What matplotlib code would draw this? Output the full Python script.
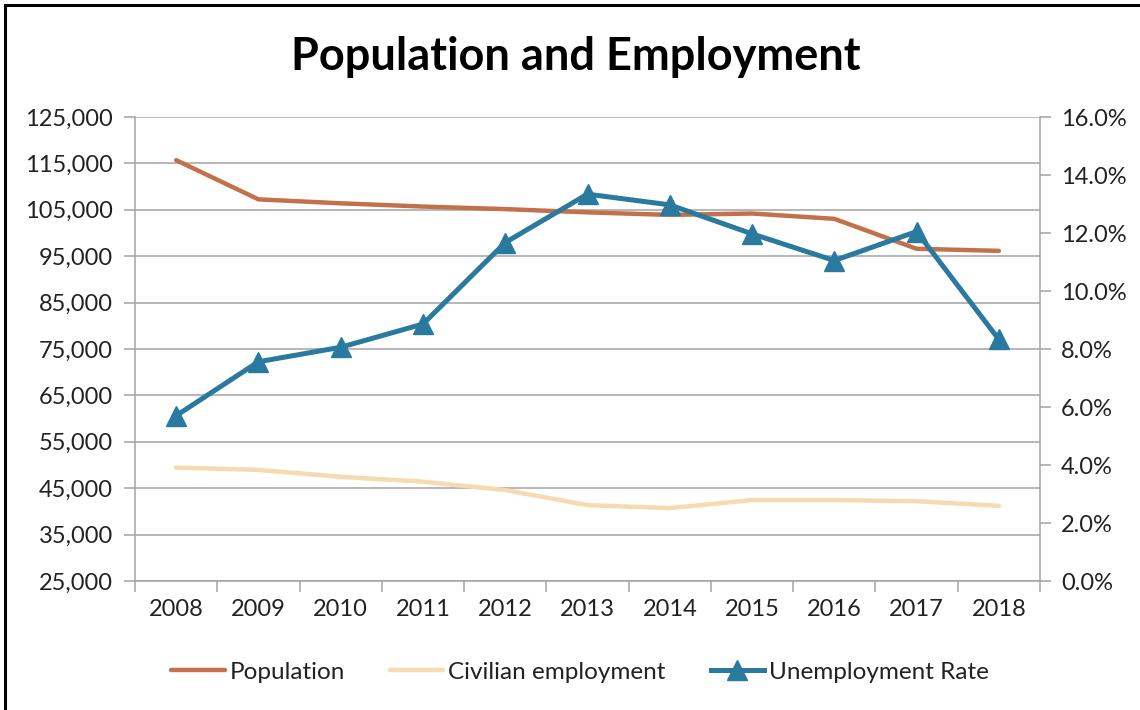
import numpy as np
import matplotlib
matplotlib.use("Agg")
import matplotlib.pyplot as plt
from matplotlib.ticker import FuncFormatter, PercentFormatter, MultipleLocator
from matplotlib.patches import Rectangle

plt.rcParams['font.family'] = ['Lato', 'DejaVu Sans']

# Series
years = ['2008', '2009', '2010', '2011', '2012', '2013', '2014', '2015', '2016', '2017', '2018']
population = [115700, 107250, 106400, 105700, 105150, 104450, 103900, 104200, 103050, 96600, 96150]
civilian_employment = [49450, 48950, 47450, 46400, 44600, 41350, 40700, 42450, 42450, 42200, 41200]
unemployment_rate = [0.057, 0.0756, 0.0806, 0.0886, 0.1167, 0.1334, 0.1297, 0.1197, 0.1105, 0.1205, 0.0833]

C_POP = '#C3714A'
C_CIV = '#F6DAB0'
C_UNEMP = '#2A799F'
C_GRID = '#A3A3A3'
C_TEXT = '#222222'

W, H = 1140, 710
fig = plt.figure(figsize=(W / 100, H / 100), dpi=100)

# outer frame (only top and left edges show)
fig.add_artist(Rectangle((5 / W, -0.05), 1.2, 1 - 5 / H + 0.05, transform=fig.transFigure,
                         fill=False, edgecolor='black', linewidth=2.2))

ax = fig.add_axes([135 / W, 1 - 581 / H, 905 / W, 464 / H])
x = np.arange(len(years))

l_pop, = ax.plot(x, population, color=C_POP, lw=3.2, solid_capstyle='round',
                 solid_joinstyle='round', label='Population')
l_civ, = ax.plot(x, civilian_employment, color=C_CIV, lw=3.2, solid_capstyle='round',
                 solid_joinstyle='round', label='Civilian employment')

ax.set_xlim(-0.5, len(years) - 0.5)
ax.set_ylim(25000, 125000)
ax.set_yticks(np.arange(25000, 125001, 10000))
ax.yaxis.set_major_formatter(FuncFormatter(lambda v, _: f"{v:,.0f}"))
ax.grid(axis='y', color=C_GRID, lw=1.1)
ax.set_axisbelow(True)

# category boundaries get the tick marks, centers get the labels
ax.set_xticks(np.arange(-0.5, len(years), 1))
ax.set_xticklabels([])
ax.set_xticks(x, minor=True)
ax.set_xticklabels(years, minor=True)
ax.tick_params(axis='x', which='major', length=8, width=1.1, color=C_GRID, direction='out')
ax.tick_params(axis='x', which='minor', length=0, pad=13, labelsize=17, labelcolor=C_TEXT)
ax.tick_params(axis='y', length=8, width=1.1, color=C_GRID, direction='out', pad=8,
               labelsize=17, labelcolor=C_TEXT)

for side in ['top', 'right']:
    ax.spines[side].set_visible(False)
for side in ['left', 'bottom']:
    ax.spines[side].set_color(C_GRID)
    ax.spines[side].set_linewidth(1.1)

ax2 = ax.twinx()
l_unemp, = ax2.plot(x, unemployment_rate, color=C_UNEMP, lw=3.6, marker='^', ms=15,
                    solid_joinstyle='round', label='Unemployment Rate')
ax2.set_ylim(0, 0.16)
ax2.yaxis.set_major_locator(MultipleLocator(0.02))
ax2.yaxis.set_major_formatter(PercentFormatter(xmax=1, decimals=1))
ax2.tick_params(axis='y', length=8, width=1.1, color=C_GRID, direction='out', pad=7,
                labelsize=17, labelcolor=C_TEXT)
for side in ['top', 'left', 'bottom']:
    ax2.spines[side].set_visible(False)
ax2.spines['right'].set_color(C_GRID)
ax2.spines['right'].set_linewidth(1.1)

fig.text(575.5 / W, 1 - 70 / H, 'Population and Employment', ha='center', va='baseline',
         fontsize=32.5, fontweight='bold', color='black')

fig.legend(handles=[l_pop, l_civ, l_unemp], loc='center', bbox_to_anchor=(580 / W, 1 - 672 / H),
           ncol=3, frameon=False, fontsize=17.5, handlelength=2.2, handletextpad=0.2,
           columnspacing=1.85, labelcolor=C_TEXT)

fig.savefig('out.png', dpi=100, facecolor='white')
